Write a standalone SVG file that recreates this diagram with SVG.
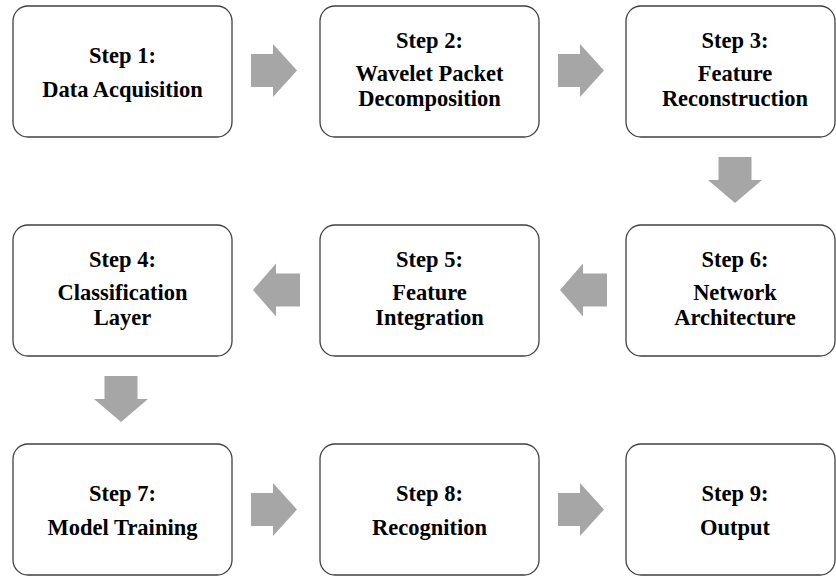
<svg xmlns="http://www.w3.org/2000/svg" width="836" height="577" viewBox="0 0 836 577">
<defs>
<style>
.box{fill:#ffffff;stroke:#404040;stroke-width:1.3}
text{font-family:'Liberation Serif','Times New Roman','DejaVu Serif',serif;font-weight:700;font-size:22.5px;fill:#000;text-anchor:middle}
.arr{fill:#a6a6a6;stroke:none}
</style>
<polygon id="ar" class="arr" points="0,-16.5 22,-16.5 22,-26.5 46,0 22,26.5 22,16.5 0,16.5"/>
<polygon id="al" class="arr" points="0,0 23,-26.5 23,-16.5 47,-16.5 47,16.5 23,16.5 23,26.5"/>
<polygon id="ad" class="arr" points="-16.5,0 16.5,0 16.5,23 27,23 0,46 -27,23 -16.5,23"/>
</defs>
<rect width="836" height="577" fill="#ffffff"/>
<g id="connectors">
<use href="#ar" x="251" y="70.5"/>
<use href="#ar" x="558" y="70.5"/>
<use href="#ad" x="735" y="157"/>
<use href="#al" x="560" y="290"/>
<use href="#al" x="253" y="290"/>
<use href="#ad" x="121" y="376"/>
<use href="#ar" x="251" y="509.5"/>
<use href="#ar" x="558" y="509.5"/>
</g>
<g id="step1">
<rect class="box" x="13" y="6" width="219" height="131" rx="15"/>
<text x="122.5" y="63">Step 1:</text>
<text x="122.5" y="97">Data Acquisition</text>
</g>
<g id="step2">
<rect class="box" x="320" y="6" width="219" height="131" rx="15"/>
<text x="429.5" y="48">Step 2:</text>
<text x="429.5" y="80.5">Wavelet Packet</text>
<text x="429.5" y="105.5">Decomposition</text>
</g>
<g id="step3">
<rect class="box" x="626" y="6" width="209" height="131" rx="15"/>
<text x="735" y="48">Step 3:</text>
<text x="735" y="80.5">Feature</text>
<text x="735" y="105.5">Reconstruction</text>
</g>
<g id="step4">
<rect class="box" x="13" y="225" width="219" height="131" rx="15"/>
<text x="122.5" y="267">Step 4:</text>
<text x="122.5" y="299.5">Classification</text>
<text x="122.5" y="324.5">Layer</text>
</g>
<g id="step5">
<rect class="box" x="320" y="225" width="219" height="131" rx="15"/>
<text x="429.5" y="267">Step 5:</text>
<text x="429.5" y="299.5">Feature</text>
<text x="429.5" y="324.5">Integration</text>
</g>
<g id="step6">
<rect class="box" x="626" y="225" width="209" height="131" rx="15"/>
<text x="735" y="267">Step 6:</text>
<text x="735" y="299.5">Network</text>
<text x="735" y="324.5">Architecture</text>
</g>
<g id="step7">
<rect class="box" x="13" y="444" width="219" height="131" rx="15"/>
<text x="122.5" y="501">Step 7:</text>
<text x="122.5" y="535">Model Training</text>
</g>
<g id="step8">
<rect class="box" x="320" y="444" width="219" height="131" rx="15"/>
<text x="429.5" y="501">Step 8:</text>
<text x="429.5" y="535">Recognition</text>
</g>
<g id="step9">
<rect class="box" x="626" y="444" width="209" height="131" rx="15"/>
<text x="735" y="501">Step 9:</text>
<text x="735" y="535">Output</text>
</g>
</svg>
